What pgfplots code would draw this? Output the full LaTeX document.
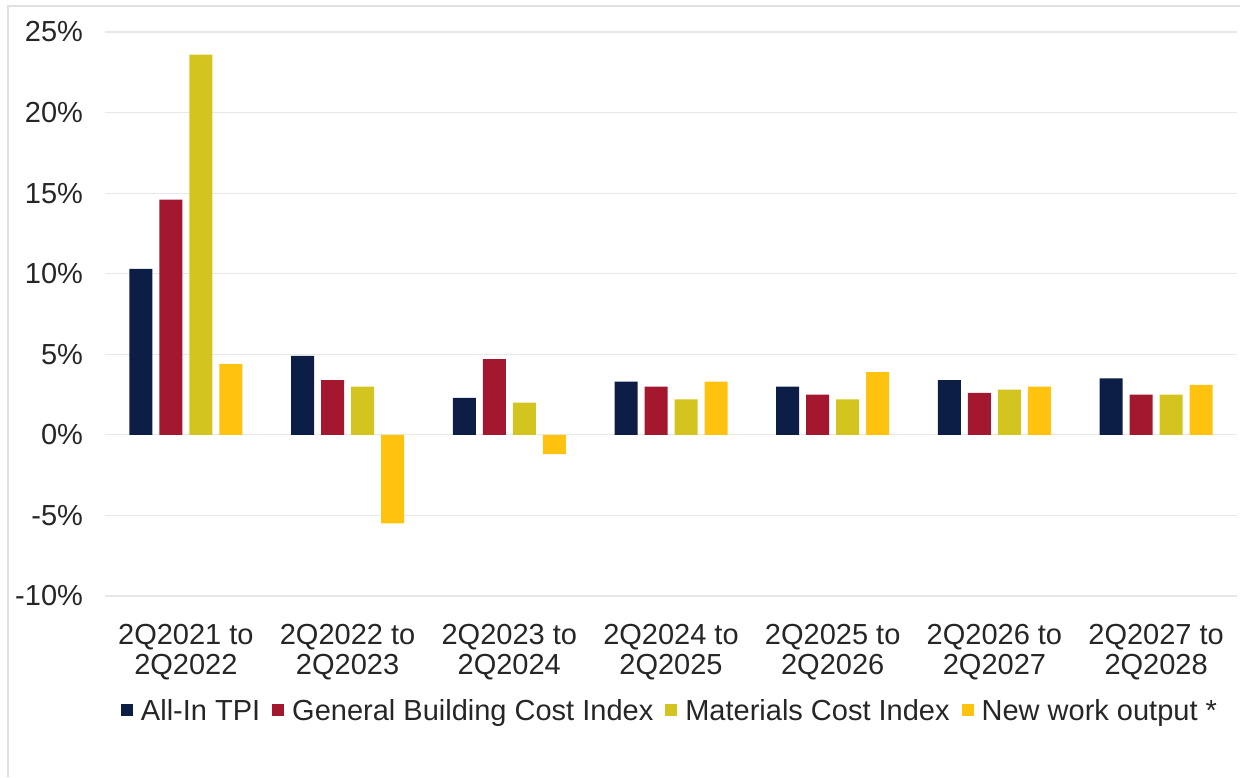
\documentclass[border=0pt]{standalone}
\usepackage{pgfplots}
\pgfplotsset{compat=1.18}
\usepackage{fontspec}
\setmainfont{Liberation Sans}
\definecolor{cnavy}{HTML}{0C1E45}
\definecolor{cred}{HTML}{A3182F}
\definecolor{cyg}{HTML}{D3C41F}
\definecolor{cgold}{HTML}{FFC20E}
\definecolor{ctext}{HTML}{262626}
\begin{document}
\begin{tikzpicture}
\path[use as bounding box] (0,0) rectangle (620pt,388.5pt);
\draw[black!12, line width=0.8pt] (4pt,0) -- (4pt,385.5pt) -- (620pt,385.5pt);
\begin{axis}[
  at={(52.5pt,90.5pt)}, anchor=south west,
  scale only axis,
  width=566pt, height=282pt,
  xmin=-0.5, xmax=6.5,
  ymin=-10, ymax=25,
  ybar=3.5pt, bar width=11.5pt,
  xtick=data,
  xticklabels={{2Q2021 to\\2Q2022},{2Q2022 to\\2Q2023},{2Q2023 to\\2Q2024},{2Q2024 to\\2Q2025},{2Q2025 to\\2Q2026},{2Q2026 to\\2Q2027},{2Q2027 to\\2Q2028}},
  xticklabel style={align=center, font=\fontsize{14.5}{15.2}\selectfont, text=ctext, yshift=-10.5pt},
  ytick={-10,-5,0,5,10,15,20,25},
  yticklabels={-10\%,-5\%,0\%,5\%,10\%,15\%,20\%,25\%},
  yticklabel style={font=\fontsize{14.5}{17}\selectfont, text=ctext, xshift=-7.5pt},
  ymajorgrids, grid style={black!9, line width=0.6pt},
  axis line style={draw=none},
  major tick length=0pt,
  legend columns=4,
  legend style={at={(0.5,-0.205)}, anchor=center, draw=none, fill=none,
    font=\fontsize{14.5}{17}\selectfont, text=ctext,
    /tikz/every odd column/.append style={column sep=2pt},
    /tikz/every even column/.append style={column sep=4pt}},
  legend image code/.code={\fill[#1] (0pt,-2pt) rectangle (6pt,4pt);},
]
\addplot[fill=cnavy, draw=none] coordinates {(0,10.3) (1,4.9) (2,2.3) (3,3.3) (4,3.0) (5,3.4) (6,3.5)};
\addplot[fill=cred, draw=none] coordinates {(0,14.6) (1,3.4) (2,4.7) (3,3.0) (4,2.5) (5,2.6) (6,2.5)};
\addplot[fill=cyg, draw=none] coordinates {(0,23.6) (1,3.0) (2,2.0) (3,2.2) (4,2.2) (5,2.8) (6,2.5)};
\addplot[fill=cgold, draw=none] coordinates {(0,4.4) (1,-5.5) (2,-1.2) (3,3.3) (4,3.9) (5,3.0) (6,3.1)};
\legend{All-In TPI,General Building Cost Index,Materials Cost Index,New work output *}
\end{axis}
\end{tikzpicture}
\end{document}
